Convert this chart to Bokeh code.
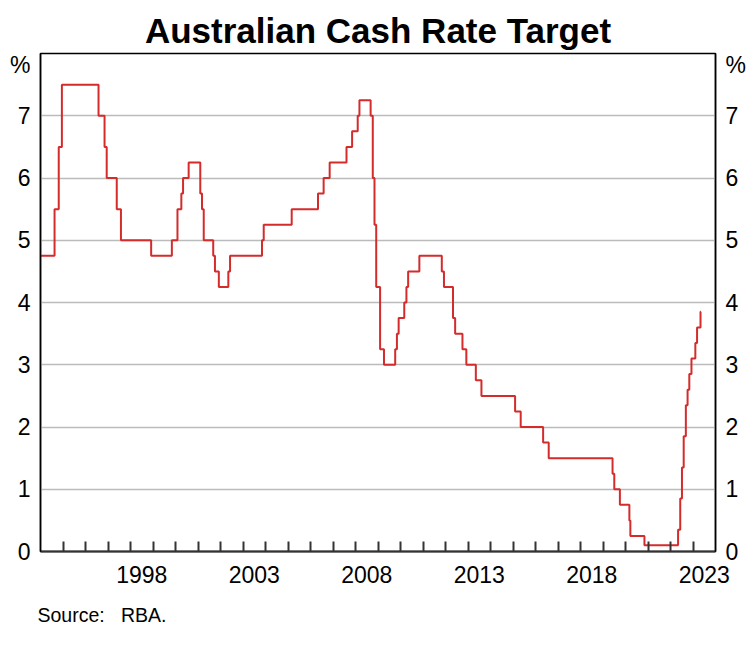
import pandas as pd
from bokeh.plotting import figure
from bokeh.models import Range1d, FixedTicker, LinearAxis, CustomJSTickFormatter, Title
from bokeh.embed import file_html
from bokeh.resources import INLINE

# ---- data: RBA cash rate target (change dates and new target, %) ----
dates = [
    "1994-01-01", "1994-08-17", "1994-10-24", "1994-12-14",
    "1996-07-31", "1996-11-06", "1996-12-11", "1997-05-23", "1997-07-30",
    "1998-12-02", "1999-11-03", "2000-02-02", "2000-04-05", "2000-05-03",
    "2000-08-02", "2001-02-07", "2001-03-07", "2001-04-04", "2001-09-05",
    "2001-10-03", "2001-12-05", "2002-05-08", "2002-06-05", "2003-11-05",
    "2003-12-03", "2005-03-02", "2006-05-03", "2006-08-02", "2006-11-08",
    "2007-08-08", "2007-11-07", "2008-02-06", "2008-03-05", "2008-09-03",
    "2008-10-08", "2008-11-05", "2008-12-03", "2009-02-04", "2009-04-08",
    "2009-10-07", "2009-11-04", "2009-12-02", "2010-03-03", "2010-04-07",
    "2010-05-05", "2010-11-03", "2011-11-02", "2011-12-07", "2012-05-02",
    "2012-06-06", "2012-10-03", "2012-12-05", "2013-05-08", "2013-08-07",
    "2015-02-04", "2015-05-06", "2016-05-04", "2016-08-03", "2019-06-05",
    "2019-07-03", "2019-10-02", "2020-03-04", "2020-03-20", "2020-11-04",
    "2022-05-04", "2022-06-08", "2022-07-06", "2022-08-03", "2022-09-07",
    "2022-10-05", "2022-11-02", "2022-12-07", "2023-02-08", "2023-03-08",
    "2023-05-03", "2023-05-10",
]
rates = [
    4.75, 5.50, 6.50, 7.50,
    7.00, 6.50, 6.00, 5.50, 5.00,
    4.75, 5.00, 5.50, 5.75, 6.00,
    6.25, 5.75, 5.50, 5.00, 4.75,
    4.50, 4.25, 4.50, 4.75, 5.00,
    5.25, 5.50, 5.75, 6.00, 6.25,
    6.50, 6.75, 7.00, 7.25, 7.00,
    6.00, 5.25, 4.25, 3.25, 3.00,
    3.25, 3.50, 3.75, 4.00, 4.25,
    4.50, 4.75, 4.50, 4.25, 3.75,
    3.50, 3.25, 3.00, 2.75, 2.50,
    2.25, 2.00, 1.75, 1.50, 1.25,
    1.00, 0.75, 0.50, 0.25, 0.10,
    0.35, 0.85, 1.35, 1.85, 2.35,
    2.60, 2.85, 3.10, 3.35, 3.60,
    3.85, 3.85,
]

year_labels = [1998, 2003, 2008, 2013, 2018, 2023]
year_ticks = list(range(1995, 2024))
y_values = [0, 1, 2, 3, 4, 5, 6, 7]
y_unit = "%"

title_text = "Australian Cash Rate Target"
source_label = "Source:"
source_text = "RBA."

# ---- convert dates to decimal years ----
d = pd.to_datetime(pd.Series(dates))
days_in_year = d.dt.is_leap_year.map({True: 366, False: 365})
xs = (d.dt.year + (d.dt.dayofyear - 1) / days_in_year).tolist()

FONT = "Liberation Sans"

p = figure(
    width=754, height=652,
    x_range=Range1d(1994, 2024), y_range=Range1d(0, 8),
    output_backend="svg", toolbar_location=None,
    min_border_left=40, min_border_right=39,
    min_border_top=53, min_border_bottom=101,
    title=title_text,
)
p.background_fill_color = "white"
p.border_fill_color = "white"
p.outline_line_color = "black"
p.outline_line_width = 1.5

p.title.align = "center"
p.title.text_font = FONT
p.title.text_font_size = "35px"
p.title.text_font_style = "bold"
p.title.text_color = "black"
p.title.standoff = 7

p.step(xs, rates, mode="after", line_color="#d42b2b", line_width=2)

# x axis
xa = p.xaxis[0]
xa.ticker = FixedTicker(ticks=[y + 0.5 for y in year_labels], minor_ticks=year_ticks)
xa.formatter = CustomJSTickFormatter(code="return Math.floor(tick).toString();")
xa.major_tick_line_color = None
xa.minor_tick_in = 10
xa.minor_tick_out = 0
xa.minor_tick_line_color = "#333333"
xa.minor_tick_line_width = 2
xa.axis_line_color = "#333333"
xa.axis_line_width = 2
xa.major_label_text_font = FONT
xa.major_label_text_font_size = "23px"
xa.major_label_text_color = "black"
xa.major_label_standoff = 8

p.xgrid.visible = False
p.ygrid.ticker = FixedTicker(ticks=y_values[1:])
p.ygrid.grid_line_color = "#bbbbbb"
p.ygrid.grid_line_width = 1.5

yfmt_code = "return tick > 7.5 ? '%s' : tick.toFixed(0);" % y_unit


def style_y(ax):
    ax.ticker = FixedTicker(ticks=y_values + [7.82])
    ax.formatter = CustomJSTickFormatter(code=yfmt_code)
    ax.major_tick_line_color = None
    ax.minor_tick_line_color = None
    ax.axis_line_color = "black"
    ax.axis_line_width = 1.5
    ax.major_label_text_font = FONT
    ax.major_label_text_font_size = "23px"
    ax.major_label_text_color = "black"
    ax.major_label_standoff = 4


style_y(p.yaxis[0])
yr = LinearAxis()
style_y(yr)
p.add_layout(yr, "right")

src = Title(text=source_label + " \u00a0 " + source_text, align="left", offset=-3,
            standoff=32, text_font=FONT, text_font_size="19.5px",
            text_font_style="normal", text_color="black")
p.add_layout(src, "below")

open("out.html", "w").write(file_html(p, INLINE))
